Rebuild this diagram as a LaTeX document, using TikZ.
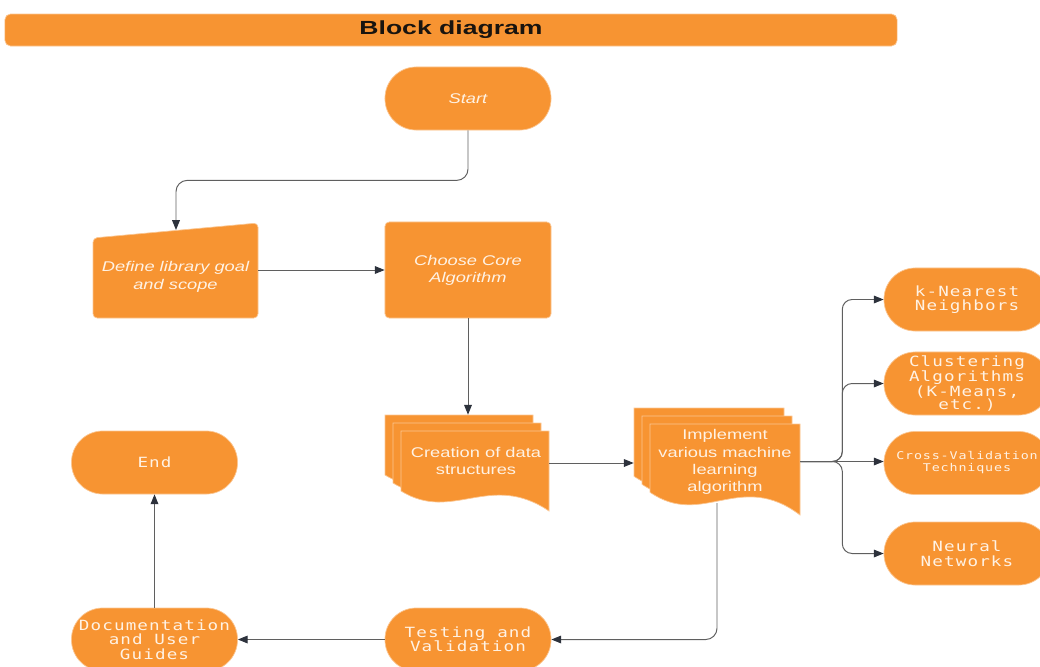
\documentclass[tikz,border=0pt]{standalone}
\usepackage{fontspec}
\setmainfont{Liberation Sans}
\newfontfamily\boxfont[FakeStretch=1.3]{Liberation Sans}
\newfontfamily\codefont[FakeStretch=1.25,LetterSpace=8]{DejaVu Sans Mono}
\newfontfamily\headfont[FakeStretch=1.4]{Liberation Sans}
\usepackage{tikz}
\usetikzlibrary{arrows.meta, fit}
\definecolor{boxorange}{RGB}{247,148,50}
\definecolor{boxedge}{RGB}{251,198,146}
\definecolor{boxtext}{RGB}{255,242,228}
\definecolor{wirecol}{RGB}{95,95,95}
\definecolor{tipcol}{RGB}{45,50,60}
\newcommand{\docstack}[4]{
    \foreach \pg in {0,1,2}{
        \draw[page, shift={(#2)}, shift={(8*\pg,8*\pg)}] (0,0.75*#4) -- (0,0) -- (#3,0) -- (#3,#4)
            .. controls (0.6*#3,0.5*#4) and (0.35*#3,1.15*#4) .. (0,0.75*#4) -- cycle;
    }
    \path[shift={(#2)}] (0,0) coordinate (#1-nw) (#3+16,#4+16) coordinate (#1-se);
    \node[fit=(#1-nw)(#1-se), inner sep=0pt] (#1) {};
}

\begin{document}
\begin{tikzpicture}[x=0.025cm, y=-0.025cm,
        box/.style={fill=boxorange, draw=boxedge, line width=0.5pt},
        page/.style={box},
        terminal/.style={box, rounded corners=0.78cm, minimum width=4.15cm, minimum height=1.575cm,
            inner sep=0pt, align=center, text=boxtext, font=\codefont\fontsize{10}{10.3}\selectfont},
        process/.style={box, rounded corners=3pt, minimum width=4.15cm, minimum height=2.4cm,
            inner sep=0pt, align=center, text=boxtext, font=\boxfont\itshape\fontsize{10}{12.2}\selectfont},
        boxlabel/.style={inner sep=0pt, align=center, text=boxtext, font=\boxfont\fontsize{10}{12.2}\selectfont},
        wire/.style={draw=wirecol, line width=0.7pt, -{Triangle[length=7pt,width=5.5pt,color=tipcol]}}
    ]
        \useasboundingbox (0,0) rectangle (1040,666);
        \node[box, rounded corners=4pt, minimum width=22.3cm, minimum height=0.8cm,
            font=\headfont\bfseries\fontsize{13.5}{15}\selectfont, text={rgb,255:red,25;green,20;blue,15}]
            (title) at (451,30) {Block diagram};

        \node[terminal, font=\boxfont\itshape\fontsize{10}{12}\selectfont] (start) at (468,98.5) {Start};

        \draw[box, rounded corners=3pt] (93,238) -- (258,223) -- (258,318) -- (93,318) -- cycle;
        \node[boxlabel, font=\boxfont\itshape\fontsize{10}{12.6}\selectfont, minimum width=4.125cm] (define) at (175.5,277) {Define library goal\\and scope};
        \coordinate (definetop) at (176,230);
        \node[process] (choose) at (468,270) {Choose Core\\Algorithm};

        \docstack{datastack}{385,415}{148}{80}
        \node[boxlabel] (datatext) at (476,461) {Creation of data\\structures};
        \docstack{mlstack}{634,408}{150}{91}
        \node[boxlabel] (mltext) at (725,462) {Implement\\various machine\\learning\\algorithm};
        \coordinate (mlfoot) at (717,503);

        \node[terminal] (knn) at (967,299.5) {k-Nearest\\Neighbors};
        \node[terminal, font=\codefont\fontsize{10}{9.6}\selectfont] (cluster) at (967,383.5) {Clustering\\Algorithms\\(K-Means,\\etc.)};
        \node[terminal, font=\codefont\fontsize{7.6}{8.5}\selectfont] (crossval) at (967,463) {Cross-Validation\\Techniques};
        \node[terminal] (neural) at (967,553.5) {Neural\\Networks};

        \node[terminal] (finish) at (154.5,462.5) {End};
        \node[terminal] (testing) at (468,639.5) {Testing and\\Validation};
        \node[terminal] (docs) at (154.5,639.5) {Documentation\\and User\\Guides};

        \draw[wire, rounded corners=8pt] (start.south) -- ++(0,50) -| (definetop);
        \draw[wire] (choose.west -| define.east) -- (choose.west);
        \draw[wire] (choose.south) -- (choose.south |- datastack.north);
        \draw[wire] (datastack.east) -- (datastack.east -| mlstack.west);
        \draw[wire, rounded corners=7pt] (mlstack.east) -- ++(42,0) |- (knn.west);
        \draw[wire, rounded corners=7pt] (mlstack.east) -- ++(42,0) |- (cluster.west);
        \draw[wire] (mlstack.east) -- (mlstack.east -| crossval.west);
        \draw[wire, rounded corners=7pt] (mlstack.east) -- ++(42,0) |- (neural.west);
        \draw[wire, rounded corners=8pt] (mlfoot) |- (testing.east);
        \draw[wire] (testing) -- (docs);
        \draw[wire] (docs) -- (finish);
    \end{tikzpicture}
\end{document}
